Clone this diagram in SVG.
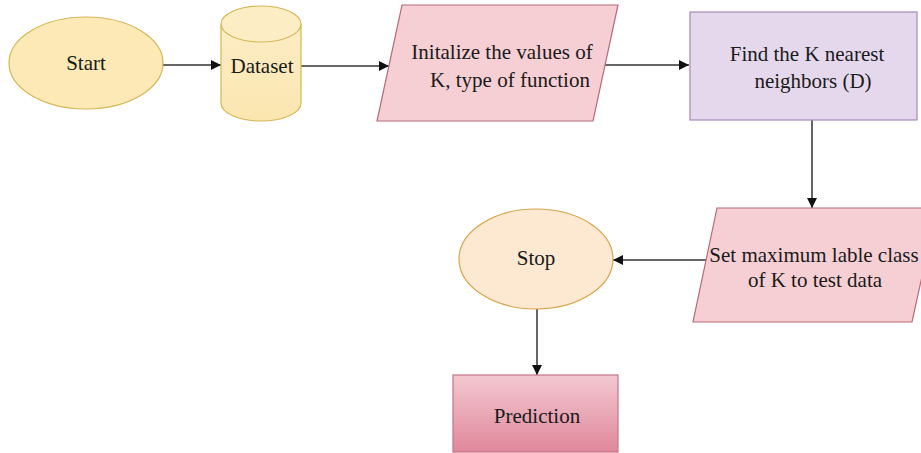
<svg xmlns="http://www.w3.org/2000/svg" width="921" height="453" viewBox="0 0 921 453">
  <style>
    text { font-family: "Liberation Serif", "Times New Roman", serif; font-size: 21px; fill: #1a1a1a; text-anchor: middle; }
    .edge { fill: none; stroke: #333333; stroke-width: 1.5; }
    .term { fill: #fce9b6; stroke: #d6b656; stroke-width: 1.2; }
    .stop { fill: #fde8d2; stroke: #d9a44a; stroke-width: 1.2; }
    .io { fill: #f6cfd4; stroke: #b86a7a; stroke-width: 1.2; }
    .proc { fill: #e6d8ec; stroke: #a68bb5; stroke-width: 1.2; }
  </style>
  <defs>
    <marker id="arrow" viewBox="0 0 10 10" refX="10" refY="5" markerWidth="10" markerHeight="10" markerUnits="userSpaceOnUse" orient="auto">
      <path d="M0,0 L10,5 L0,10 z" fill="#111111"/>
    </marker>
    <linearGradient id="predFill" x1="0" y1="0" x2="0" y2="1">
      <stop offset="0" stop-color="#f3c8d1"/>
      <stop offset="1" stop-color="#e0889b"/>
    </linearGradient>
    <linearGradient id="dbFill" x1="0" y1="0" x2="0" y2="1">
      <stop offset="0" stop-color="#fdedc4"/>
      <stop offset="1" stop-color="#fbe6b0"/>
    </linearGradient>
  </defs>

  <!-- connectors -->
  <g id="connectors">
    <line class="edge" x1="162" y1="65" x2="221" y2="65" marker-end="url(#arrow)"/>
    <line class="edge" x1="301" y1="66" x2="389" y2="66" marker-end="url(#arrow)"/>
    <line class="edge" x1="605" y1="65" x2="689" y2="65" marker-end="url(#arrow)"/>
    <line class="edge" x1="812" y1="120" x2="812" y2="208" marker-end="url(#arrow)"/>
    <line class="edge" x1="712" y1="260" x2="613" y2="260" marker-end="url(#arrow)"/>
    <line class="edge" x1="537" y1="309" x2="537" y2="375" marker-end="url(#arrow)"/>
  </g>

  <g id="start">
    <ellipse class="term" cx="86" cy="63" rx="77" ry="46"/>
    <text x="86" y="70">Start</text>
  </g>

  <g id="dataset">
    <path d="M221,24 L221,103 A40,18 0 0 0 301,103 L301,24" fill="url(#dbFill)" stroke="#d6b656" stroke-width="1.2"/>
    <ellipse cx="261" cy="24" rx="40" ry="18" fill="#fdedc4" stroke="#d6b656" stroke-width="1.2"/>
    <text x="262" y="73">Dataset</text>
  </g>

  <g id="init">
    <polygon class="io" points="402,5 618,5 593,121 377,121"/>
    <text x="502" y="59">Initalize the values of</text>
    <text x="510" y="87">K, type of function</text>
  </g>

  <g id="find">
    <rect class="proc" x="690" y="12" width="227" height="108"/>
    <text x="807" y="61">Find the K nearest</text>
    <text x="813" y="88">neighbors (D)</text>
  </g>

  <g id="set-label">
    <polygon class="io" points="717,208 937,208 912,322 693,322"/>
    <text x="814" y="262">Set maximum lable class</text>
    <text x="815" y="287">of K to test data</text>
  </g>

  <g id="stop">
    <ellipse class="stop" cx="536" cy="259" rx="77" ry="50"/>
    <text x="536" y="265">Stop</text>
  </g>

  <g id="prediction">
    <rect x="453" y="375" width="165" height="77" fill="url(#predFill)" stroke="#c77389" stroke-width="1.2"/>
    <text x="537" y="423">Prediction</text>
  </g>
</svg>
